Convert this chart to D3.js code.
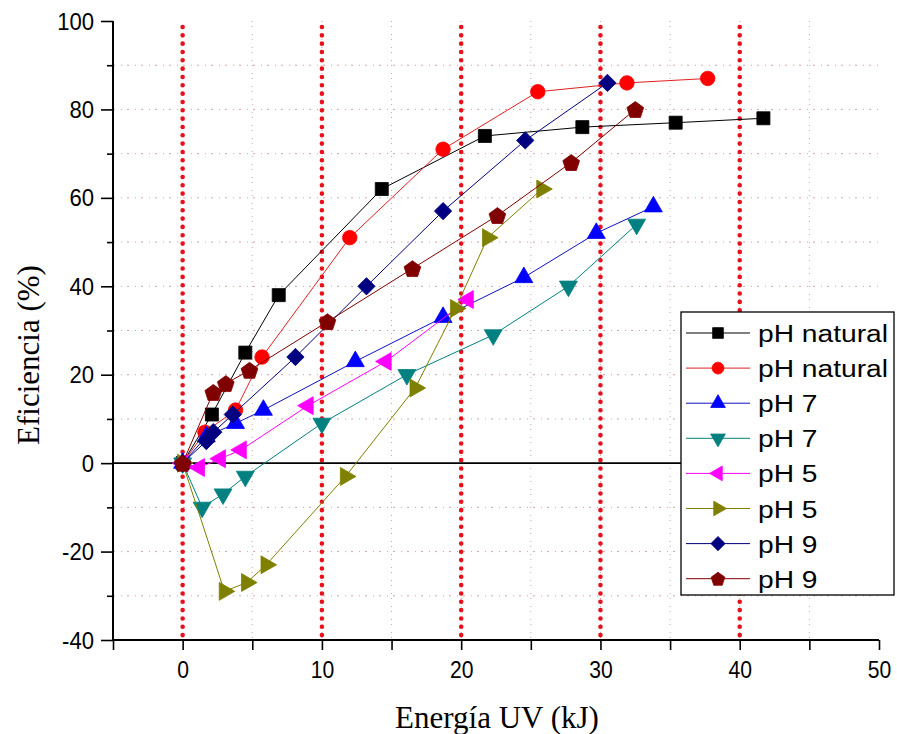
<!DOCTYPE html>
<html>
<head>
<meta charset="utf-8">
<script src="https://cdn.jsdelivr.net/npm/d3@7"></script>
<style>
  html, body { margin: 0; padding: 0; background: #fff; }
  svg { display: block; }
</style>
</head>
<body>
<svg id="chart" width="897" height="734"></svg>
<script>
// Energía UV (kJ) and eficiencia (%) for each run
const energyNaturalA = [0, 2.1, 4.5, 6.9, 14.3, 21.7, 28.7, 35.4, 41.7];
const effNaturalA    = [0, 11, 25, 38, 62, 74, 76, 77, 78];
const energyNaturalB = [0, 1.6, 3.8, 5.7, 12.0, 18.7, 25.5, 31.9, 37.7];
const effNaturalB    = [0, 7, 12, 24, 51, 71, 84, 86, 87];
const energyPH7A = [0, 1.7, 3.8, 5.8, 12.4, 18.7, 24.5, 29.7, 33.8];
const effPH7A    = [0, 6, 9, 12, 23, 33, 42, 52, 58];
const energyPH7B = [0, 1.4, 2.9, 4.5, 10.0, 16.1, 22.3, 27.7, 32.6];
const effPH7B    = [0, -10, -7, -3, 9, 20, 29, 40, 54];
const energyPH5A = [0, 1.2, 2.7, 4.2, 9.0, 14.6, 20.5];
const effPH5A    = [0, -1, 1, 3, 13, 23, 37];
const energyPH5B = [0, 3.0, 4.6, 6.0, 11.7, 16.7, 19.6, 21.9, 25.8];
const effPH5B    = [0, -29, -27, -23, -3, 17, 35, 51, 62];
const energyPH9A = [0, 1.7, 2.2, 3.6, 8.1, 13.2, 18.7, 24.6, 30.5];
const effPH9A    = [0, 5, 7, 11, 24, 40, 57, 73, 86];
const energyPH9B = [0, 2.2, 3.1, 4.8, 10.4, 16.5, 22.6, 27.9, 32.5];
const effPH9B    = [0, 16, 18, 21, 32, 44, 56, 68, 80];

const seriesLabels = ["pH natural", "pH natural", "pH 7", "pH 7", "pH 5", "pH 5", "pH 9", "pH 9"];
const xTickValues = [0, 10, 20, 30, 40, 50];
const yTickValues = [-40, -20, 0, 20, 40, 60, 80, 100];

const series = [
  { label: seriesLabels[0], x: energyNaturalA, y: effNaturalA, color: "#000000", line: "#000000", shape: "square" },
  { label: seriesLabels[1], x: energyNaturalB, y: effNaturalB, color: "#ff0000", line: "#e02020", shape: "circle" },
  { label: seriesLabels[2], x: energyPH7A, y: effPH7A, color: "#0000ff", line: "#1010c0", shape: "up" },
  { label: seriesLabels[3], x: energyPH7B, y: effPH7B, color: "#008080", line: "#008080", shape: "down" },
  { label: seriesLabels[4], x: energyPH5A, y: effPH5A, color: "#ff00ff", line: "#ff00ff", shape: "left" },
  { label: seriesLabels[5], x: energyPH5B, y: effPH5B, color: "#808000", line: "#808000", shape: "right" },
  { label: seriesLabels[6], x: energyPH9A, y: effPH9A, color: "#000080", line: "#000080", shape: "diamond" },
  { label: seriesLabels[7], x: energyPH9B, y: effPH9B, color: "#800000", line: "#800000", shape: "pentagon" }
];

const svg = d3.select("#chart");
const x = d3.scaleLinear().domain([-5, 50]).range([113, 879]);
const y = d3.scaleLinear().domain([-40, 100]).range([640, 21]);

// faint dash-dot grid
const grid = svg.append("g");
grid.selectAll("line.gx")
  .data(d3.range(5, 50, 5))
  .join("line")
  .attr("x1", d => x(d)).attr("x2", d => x(d))
  .attr("y1", y(100)).attr("y2", y(-40))
  .attr("stroke", "#d9a3a8").attr("stroke-width", 1)
  .attr("stroke-dasharray", "1,4,1,7");
grid.selectAll("line.gy")
  .data(d3.range(-30, 100, 10).filter(v => v !== 0))
  .join("line")
  .attr("x1", x(-5)).attr("x2", x(50))
  .attr("y1", d => y(d)).attr("y2", d => y(d))
  .attr("stroke", "#d9a3a8").attr("stroke-width", 1)
  .attr("stroke-dasharray", "2,6,1,5");

// heavy red dotted reference lines every 10 kJ
svg.append("g").selectAll("line")
  .data([0, 10, 20, 30, 40])
  .join("line")
  .attr("x1", d => x(d)).attr("x2", d => x(d))
  .attr("y1", y(100) + 6).attr("y2", y(-40))
  .attr("stroke", "#e8101c").attr("stroke-width", 4.6)
  .attr("stroke-linecap", "round")
  .attr("stroke-dasharray", "0,8.33");

// zero line
svg.append("line")
  .attr("x1", x(-5)).attr("x2", x(50))
  .attr("y1", y(0)).attr("y2", y(0))
  .attr("stroke", "#000").attr("stroke-width", 1.6);

// axes
const tickFont = "'Liberation Sans', Arial, sans-serif";
const axisG = svg.append("g");
const xAxis = d3.axisBottom(x).tickValues(d3.range(-5, 51, 5)).tickSize(10)
  .tickFormat(d => xTickValues.includes(d) ? d : "");
axisG.append("g").attr("transform", `translate(0,${y(-40)})`).call(xAxis)
  .call(g => {
    g.select(".domain").attr("stroke-width", 2).attr("d", `M${x(-5)},0H${x(50)}`);
    g.selectAll(".tick line").attr("stroke-width", 1.6);
    g.selectAll(".tick text").attr("font-family", tickFont).attr("font-size", 23)
      .attr("fill", "#000").attr("y", 0).attr("dy", 0)
      .attr("transform", "translate(0,38) scale(0.92,1)");
  });

const yAxis = d3.axisLeft(y).tickValues(d3.range(-40, 101, 10)).tickSize(12)
  .tickFormat(d => yTickValues.includes(d) ? d : "");
axisG.append("g").attr("transform", `translate(${x(-5)},0)`).call(yAxis)
  .call(g => {
    g.select(".domain").attr("stroke-width", 2).attr("d", `M0,${y(100)}V${y(-40)}`);
    g.selectAll(".tick line").attr("stroke-width", 1.6)
      .attr("x2", d => yTickValues.includes(d) ? -12 : -6);
    g.selectAll(".tick text").attr("font-family", tickFont).attr("font-size", 23)
      .attr("fill", "#000").attr("x", 0).attr("dy", 0)
      .attr("transform", "translate(-19,8) scale(0.96,1)");
  });

// axis titles
const titleFont = "'Liberation Serif', 'Times New Roman', serif";
svg.append("text")
  .attr("x", 497).attr("y", 728)
  .attr("text-anchor", "middle")
  .attr("font-family", titleFont).attr("font-size", 31)
  .text("Energía UV (kJ)");
svg.append("text")
  .attr("transform", `translate(39,355) rotate(-90)`)
  .attr("text-anchor", "middle")
  .attr("font-family", titleFont).attr("font-size", 31)
  .text("Eficiencia (%)");

// marker shapes
function pentagonPath(r) {
  const pts = d3.range(5).map(i => {
    const a = -Math.PI / 2 + i * 2 * Math.PI / 5;
    return [r * Math.cos(a), r * Math.sin(a) + r * 0.1];
  });
  return "M" + pts.map(p => p.join(",")).join("L") + "Z";
}
function markerPath(shape, k) {
  const tri = d3.symbol(d3.symbolTriangle, 140 * k * k)();
  switch (shape) {
    case "square": return { d: d3.symbol(d3.symbolSquare, 170 * k * k)(), rot: 0 };
    case "circle": return { d: d3.symbol(d3.symbolCircle, 165 * k * k)(), rot: 0 };
    case "up": return { d: tri, rot: 0 };
    case "down": return { d: tri, rot: 180 };
    case "left": return { d: tri, rot: -90 };
    case "right": return { d: tri, rot: 90 };
    case "diamond": return { d: d3.symbol(d3.symbolSquare, 150 * k * k)(), rot: 45 };
    case "pentagon": return { d: pentagonPath(8.8 * k), rot: 0 };
  }
}

const line = d3.line().x(d => x(d[0])).y(d => y(d[1]));
const plot = svg.append("g");
series.forEach(s => {
  const pts = s.x.map((v, i) => [v, s.y[i]]);
  const g = plot.append("g");
  g.append("path").attr("d", line(pts))
    .attr("fill", "none").attr("stroke", s.line).attr("stroke-width", 1);
  const m = markerPath(s.shape, 1);
  g.selectAll("path.m").data(pts).join("path")
    .attr("class", "m")
    .attr("d", m.d)
    .attr("transform", d => `translate(${x(d[0])},${y(d[1])}) rotate(${m.rot})`)
    .attr("fill", s.color).attr("stroke", s.color).attr("stroke-width", 0.8);
});

// legend
const lg = svg.append("g");
lg.append("rect")
  .attr("x", 681).attr("y", 312).attr("width", 213).attr("height", 283)
  .attr("fill", "#fff").attr("stroke", "#000").attr("stroke-width", 1.3);
series.forEach((s, i) => {
  const cy = 333 + i * 35.1;
  lg.append("line").attr("x1", 686).attr("x2", 750).attr("y1", cy).attr("y2", cy)
    .attr("stroke", s.line).attr("stroke-width", 1);
  const m = markerPath(s.shape, 0.82);
  lg.append("path").attr("d", m.d)
    .attr("transform", `translate(718,${cy}) rotate(${m.rot})`)
    .attr("fill", s.color).attr("stroke", s.color).attr("stroke-width", 0.8);
  lg.append("text")
    .attr("transform", `translate(758,${cy + 9}) scale(1.15,1)`)
    .attr("font-family", tickFont).attr("font-size", 24.5)
    .text(s.label);
});
</script>
</body>
</html>
